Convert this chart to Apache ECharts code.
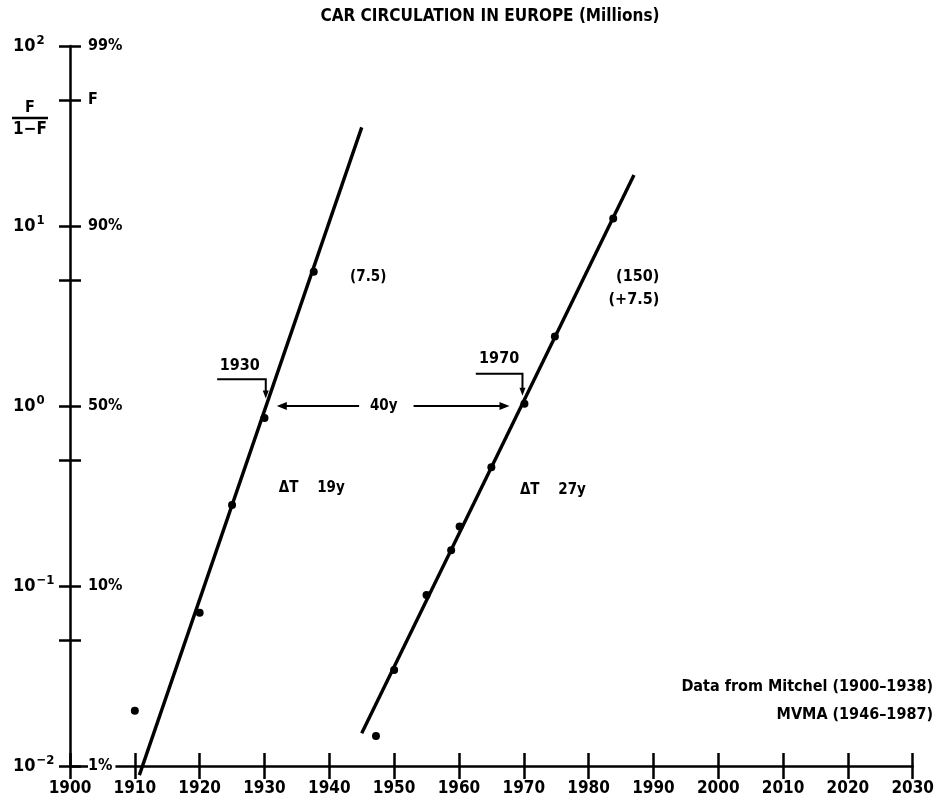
<!DOCTYPE html>
<html>
<head>
<meta charset="utf-8">
<script src="https://cdn.jsdelivr.net/npm/echarts@6/dist/echarts.min.js"></script>
<style>
html,body{margin:0;padding:0;background:#fff;}
#c{width:937px;height:807px;}
</style>
</head>
<body>
<div id="c"></div>
<script>
// ---- data ----
var europeYears = [1910, 1920, 1925, 1930, 1937.6];
var europeValues = [0.0203, 0.071, 0.282, 0.857, 5.57];
var postwarYears = [1947.2, 1950, 1955, 1958.8, 1960.1, 1965, 1970.1, 1974.8, 1983.8];
var postwarValues = [0.0147, 0.0341, 0.089, 0.158, 0.214, 0.457, 1.03, 2.43, 11.0];
var fitAYears = [1910.7, 1945.0];
var fitAValues = [0.0089, 35.3];
var fitBYears = [1945.0, 1987.0];
var fitBValues = [0.0152, 19.2];
var yMajorTicks = [0.01, 0.1, 1, 10, 100];
var yAllTicks = [0.01, 0.05, 0.1, 0.5, 1, 5, 10, 50, 100];
var yLeftLabels = {0.01: '{b|10}{s|−2}', 0.1: '{b|10}{s|−1}', 1: '{b|10}{s|0}', 10: '{b|10}{s|1}', 100: '{b|10}{s|2}'};
var yRightTicks = [0.01, 0.1, 1, 10, 50, 100];
var yRightLabels = {0.01: '1%', 0.1: '10%', 1: '50%', 10: '90%', 50: 'F', 100: '99%'};
var titleText = 'CAR CIRCULATION IN EUROPE (Millions)';
var sourceLines = ['Data from Mitchel (1900–1938)', 'MVMA (1946–1987)'];

var FONT = "'Liberation Sans Narrow', 'DejaVu Sans Condensed', 'Arial Narrow', sans-serif";

function zip(a, b) { return a.map(function (v, i) { return [v, b[i]]; }); }

var chart = echarts.init(document.getElementById('c'), null, {renderer: 'canvas'});

var axisLineStyle = {color: '#000', width: 2.5};
var tickStyle = {color: '#000', width: 2.5};

var option = {
  animation: false,
  backgroundColor: '#fff',
  grid: {left: 70, right: 20, top: 46, bottom: 41, containLabel: false},
  xAxis: [
    {
      type: 'value', min: 1900, max: 2030, interval: 10, position: 'bottom',
      axisLine: {show: true, lineStyle: axisLineStyle},
      axisTick: {show: true, inside: false, length: 13, lineStyle: tickStyle},
      axisLabel: {show: true, margin: 14, color: '#000', fontFamily: FONT, fontWeight: 'bold', fontSize: 17,
        formatter: function (v) { return String(v); }},
      splitLine: {show: false}, z: 1
    },
    {
      type: 'value', min: 1900, max: 2030, interval: 10, position: 'bottom', offset: 0,
      axisLine: {show: false},
      axisTick: {show: true, inside: true, length: 13, lineStyle: tickStyle},
      axisLabel: {show: false}, splitLine: {show: false}, z: 1
    }
  ],
  yAxis: [
    {
      type: 'log', logBase: 10, min: 0.01, max: 100, position: 'left',
      axisLine: {show: true, lineStyle: axisLineStyle},
      axisTick: {show: true, inside: false, length: 11, lineStyle: tickStyle, customValues: yAllTicks},
      axisLabel: {show: true, align: 'left', margin: 57, color: '#000', customValues: yMajorTicks,
        formatter: function (v) { var k = Math.round(Math.log10(v)); return yLeftLabels[Math.pow(10, k)] || ''; },
        rich: {
          b: {fontFamily: FONT, fontWeight: 'bold', fontSize: 18, color: '#000'},
          s: {fontFamily: FONT, fontWeight: 'bold', fontSize: 13, color: '#000', padding: [0, 0, 11, 1]}
        }},
      splitLine: {show: false}, minorTick: {show: false}, z: 2
    },
    {
      type: 'log', logBase: 10, min: 0.01, max: 100, position: 'left', offset: 0,
      axisLine: {show: false},
      axisTick: {show: true, inside: true, length: 11, lineStyle: tickStyle, customValues: yAllTicks},
      axisLabel: {show: true, inside: true, align: 'left', margin: 18, color: '#000',
        fontFamily: FONT, fontWeight: 'bold', fontSize: 16, customValues: yRightTicks,
        backgroundColor: '#fff', padding: [0, 3, 0, 0],
        formatter: function (v) {
          for (var i = 0; i < yRightTicks.length; i++) { if (Math.abs(v / yRightTicks[i] - 1) < 1e-6) return yRightLabels[yRightTicks[i]]; }
          return '';
        }},
      splitLine: {show: false}, z: 5
    }
  ],
  series: [
    {type: 'line', name: 'fitA', data: zip(fitAYears, fitAValues), symbol: 'none', clip: false,
      lineStyle: {color: '#000', width: 3.4}, z: 3},
    {type: 'line', name: 'fitB', data: zip(fitBYears, fitBValues), symbol: 'none', clip: false,
      lineStyle: {color: '#000', width: 3.4}, z: 3},
    {type: 'scatter', name: 'Europe 1910-1938', data: zip(europeYears, europeValues), symbol: 'circle',
      symbolSize: 8, itemStyle: {color: '#000', opacity: 1}, z: 4},
    {type: 'scatter', name: 'Europe 1946-1987', data: zip(postwarYears, postwarValues), symbol: 'circle',
      symbolSize: 8, itemStyle: {color: '#000', opacity: 1}, z: 4}
  ]
};
chart.setOption(option);

function px(x, y) { return chart.convertToPixel({xAxisIndex: 0, yAxisIndex: 0}, [x, y]); }

function txt(p, s, size, align, vAlign) {
  return {type: 'text', x: p[0], y: p[1], z: 10,
    style: {text: s, fill: '#000', font: 'bold ' + size + 'px ' + FONT, align: align || 'center', verticalAlign: vAlign || 'middle'}};
}
function poly(pts, w) {
  return {type: 'polyline', z: 10, shape: {points: pts}, style: {stroke: '#000', lineWidth: w || 2, fill: null}};
}
function tri(pts) {
  return {type: 'polygon', z: 10, shape: {points: pts}, style: {fill: '#000'}};
}

var g = [];
// title
g.push({type: 'text', x: 490, y: 17, z: 10, style: {text: titleText, fill: '#000', font: 'bold 17px ' + FONT, align: 'center', verticalAlign: 'middle'}});
// F/(1-F) label
g.push({type: 'text', x: 30, y: 108, z: 10, style: {text: 'F', fill: '#000', font: 'bold 16px ' + FONT, align: 'center', verticalAlign: 'middle'}});
g.push({type: 'line', z: 10, shape: {x1: 12, y1: 118, x2: 48, y2: 118}, style: {stroke: '#000', lineWidth: 2.5}});
g.push({type: 'text', x: 30, y: 130, z: 10, style: {text: '1−F', fill: '#000', font: 'bold 17px ' + FONT, align: 'center', verticalAlign: 'middle'}});

// 1930 marker
g.push(txt(px(1926.2, 1.68), '1930', 16));
var a1 = px(1922.7, 1.41), a2 = px(1930.2, 1.41), a3 = px(1930.2, 1.10);
g.push(poly([a1, a2, [a3[0], a3[1] - 6]], 2));
g.push(tri([[a3[0] - 3, a3[1] - 8], [a3[0] + 3, a3[1] - 8], [a3[0], a3[1]]]));
// 1970 marker
g.push(txt(px(1966.2, 1.82), '1970', 16));
var b1 = px(1962.6, 1.51), b2 = px(1969.8, 1.51), b3 = px(1969.8, 1.14);
g.push(poly([b1, b2, [b3[0], b3[1] - 6]], 2));
g.push(tri([[b3[0] - 3, b3[1] - 8], [b3[0] + 3, b3[1] - 8], [b3[0], b3[1]]]));
// 40y arrows
var l1 = px(1931.9, 1.0), l2 = px(1944.6, 1.0), r1 = px(1953.0, 1.0), r2 = px(1967.8, 1.0);
g.push(poly([[l1[0] + 8, l1[1]], l2], 2));
g.push(tri([[l1[0], l1[1]], [l1[0] + 10, l1[1] - 4], [l1[0] + 10, l1[1] + 4]]));
g.push(poly([r1, [r2[0] - 8, r2[1]]], 2));
g.push(tri([[r2[0], r2[1]], [r2[0] - 10, r2[1] - 4], [r2[0] - 10, r2[1] + 4]]));
g.push(txt(px(1948.4, 1.0), '40y', 15));
// other annotations
g.push(txt(px(1946.0, 5.2), '(7.5)', 15));
g.push(txt(px(1932.2, 0.35), 'ΔT    19y', 15, 'left'));
g.push(txt(px(1969.4, 0.34), 'ΔT    27y', 15, 'left'));
g.push(txt(px(1990.9, 5.2), '(150)', 16, 'right'));
g.push(txt(px(1990.9, 3.88), '(+7.5)', 16, 'right'));
// source note
g.push({type: 'text', x: 933, y: 687, z: 10, style: {text: sourceLines[0], fill: '#000', font: 'bold 16px ' + FONT, align: 'right', verticalAlign: 'middle'}});
g.push({type: 'text', x: 933, y: 715, z: 10, style: {text: sourceLines[1], fill: '#000', font: 'bold 16px ' + FONT, align: 'right', verticalAlign: 'middle'}});

chart.setOption({graphic: g});
</script>
</body>
</html>
